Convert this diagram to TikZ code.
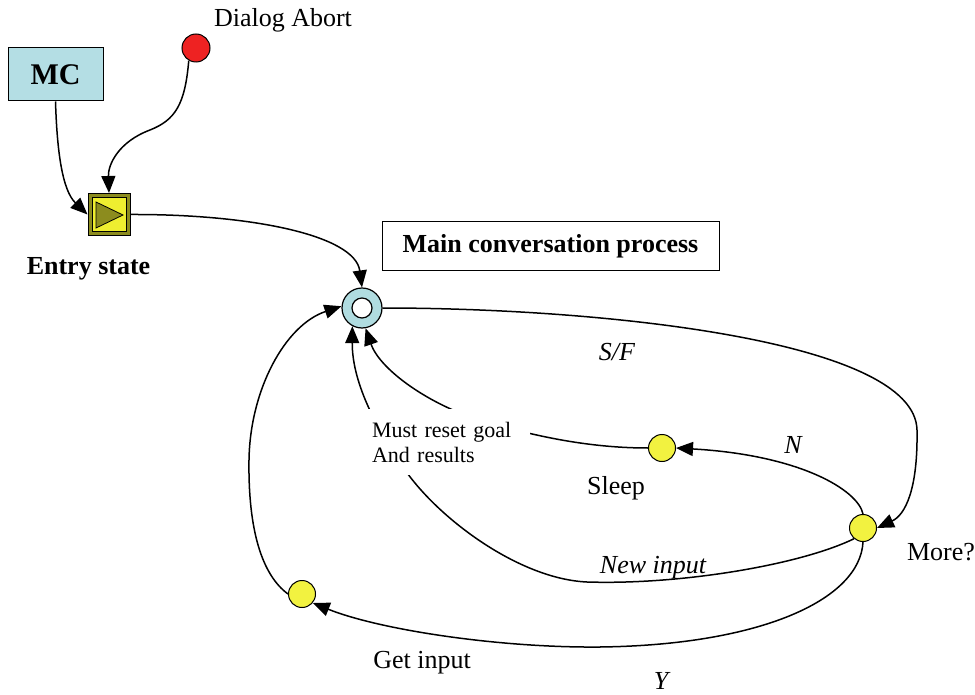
\documentclass[tikz,border=0pt]{standalone}
\usepackage{fontspec}
\setmainfont{Liberation Serif}
\usetikzlibrary{arrows.meta}
\definecolor{mcblue}{HTML}{B4DEE4}
\definecolor{ringblue}{HTML}{B0DCE0}
\definecolor{dotyellow}{HTML}{F2F240}
\definecolor{abortred}{HTML}{EE2222}
\definecolor{olivedark}{HTML}{8C8C1E}
\definecolor{entryyellow}{HTML}{EEEE30}
\begin{document}
\begin{tikzpicture}[x=1pt,y=-1pt,
  conn/.style={line width=1.5pt},
  arr/.style={conn,-{Triangle[length=17pt,width=14pt]}},
  dot/.style={circle,draw,line width=1pt,fill=dotyellow,minimum size=27pt,inner sep=0pt},
  lbl/.style={anchor=base,font=\fontsize{26}{30}\selectfont},
  ilbl/.style={anchor=base,font=\fontsize{26}{30}\selectfont\itshape},
  blbl/.style={anchor=base,font=\fontsize{26}{30}\selectfont\bfseries},
]
\useasboundingbox (0,0) rectangle (975,695);

% nodes
\node[draw,line width=1pt,fill=mcblue,minimum width=95pt,minimum height=53pt,inner sep=0pt,
      font=\fontsize{30}{34}\selectfont\bfseries] (mc) at (55.5,74.5) {MC};
\node[circle,draw,line width=1pt,fill=abortred,minimum size=28pt,inner sep=0pt] (abort) at (196,48) {};
\node[lbl] (abortlbl) at (283,27) {Dialog Abort};

\node[draw,line width=1pt,fill=olivedark,minimum size=42pt,inner sep=0pt] (entry) at (109,214.5) {};
\node[draw,line width=0.6pt,fill=entryyellow,minimum size=34pt,inner sep=0pt] (entryin) at (entry.center) {};
\draw[fill=olivedark,line width=0.8pt] (96,202) -- (123,215) -- (96,228) -- cycle;
\node[blbl] (entrylbl) at (88.5,275) {Entry state};

\node[draw,line width=1pt,minimum width=337pt,minimum height=49pt,inner sep=0pt,
      font=\fontsize{26}{30}\selectfont\bfseries] (mainbox) at (550.5,246.5) {Main conversation process};

\node[circle,draw,line width=1.2pt,fill=ringblue,minimum size=40pt,inner sep=0pt] (ring) at (362,308) {};
\node[circle,draw,line width=1.2pt,fill=white,minimum size=20pt,inner sep=0pt] (ringin) at (ring.center) {};

\node[dot] (sleep) at (662,448) {};
\node[dot] (more) at (863,528) {};
\node[dot] (getin) at (302,594) {};

% connectors
\draw[arr] (mc.south) .. controls (57,150) and (62,190) .. (entry.west);
\draw[arr] (abort.240) .. controls (185,105) and (175,120) .. (150,130)
                       .. controls (118,142) and (108,165) .. (entry.north);
\draw[arr] (entry.east) .. controls (250,214) and (355,235) .. (ring.north);
\draw[arr] (ring.east) .. controls (600,308) and (915,340) .. (917,430)
                       .. controls (918,490) and (905,515) .. (more.east);
\draw[arr] (more.north) .. controls (858,490) and (800,455) .. (sleep.east);
\draw[arr] (sleep.west) .. controls (580,448) and (520,432) .. (480,420)
                        .. controls (430,405) and (380,370) .. (ring.-80);
\draw[arr] (more.230) .. controls (800,565) and (680,585) .. (587,582)
                      .. controls (520,579) and (440,520) .. (405,470)
                      .. controls (380,434) and (352,385) .. (ring.-118);
\draw[arr] (more.south) .. controls (860,600) and (760,645) .. (600,647)
                        .. controls (500,648) and (380,630) .. (getin.-40);
\draw[arr] (getin.west) .. controls (262,575) and (248,530) .. (249,460)
                        .. controls (250,390) and (285,325) .. (ring.175);

% labels
\node[fill=white,minimum width=170pt,minimum height=66pt,text width=145pt,align=left,inner sep=0pt,
      font=\fontsize{22}{25}\selectfont] (reset) at (444.5,442) {Must reset goal\\And results};
\node[ilbl] (sflbl) at (617,360) {S/F};
\node[ilbl] (nlbl) at (793,453) {N};
\node[lbl] (sleeplbl) at (616,494) {Sleep};
\node[lbl] (morelbl) at (941,560) {More?};
\node[ilbl] (newlbl) at (653,573) {New input};
\node[lbl] (getlbl) at (422,668) {Get input};
\node[ilbl] (ylbl) at (661,689) {Y};
\end{tikzpicture}
\end{document}
